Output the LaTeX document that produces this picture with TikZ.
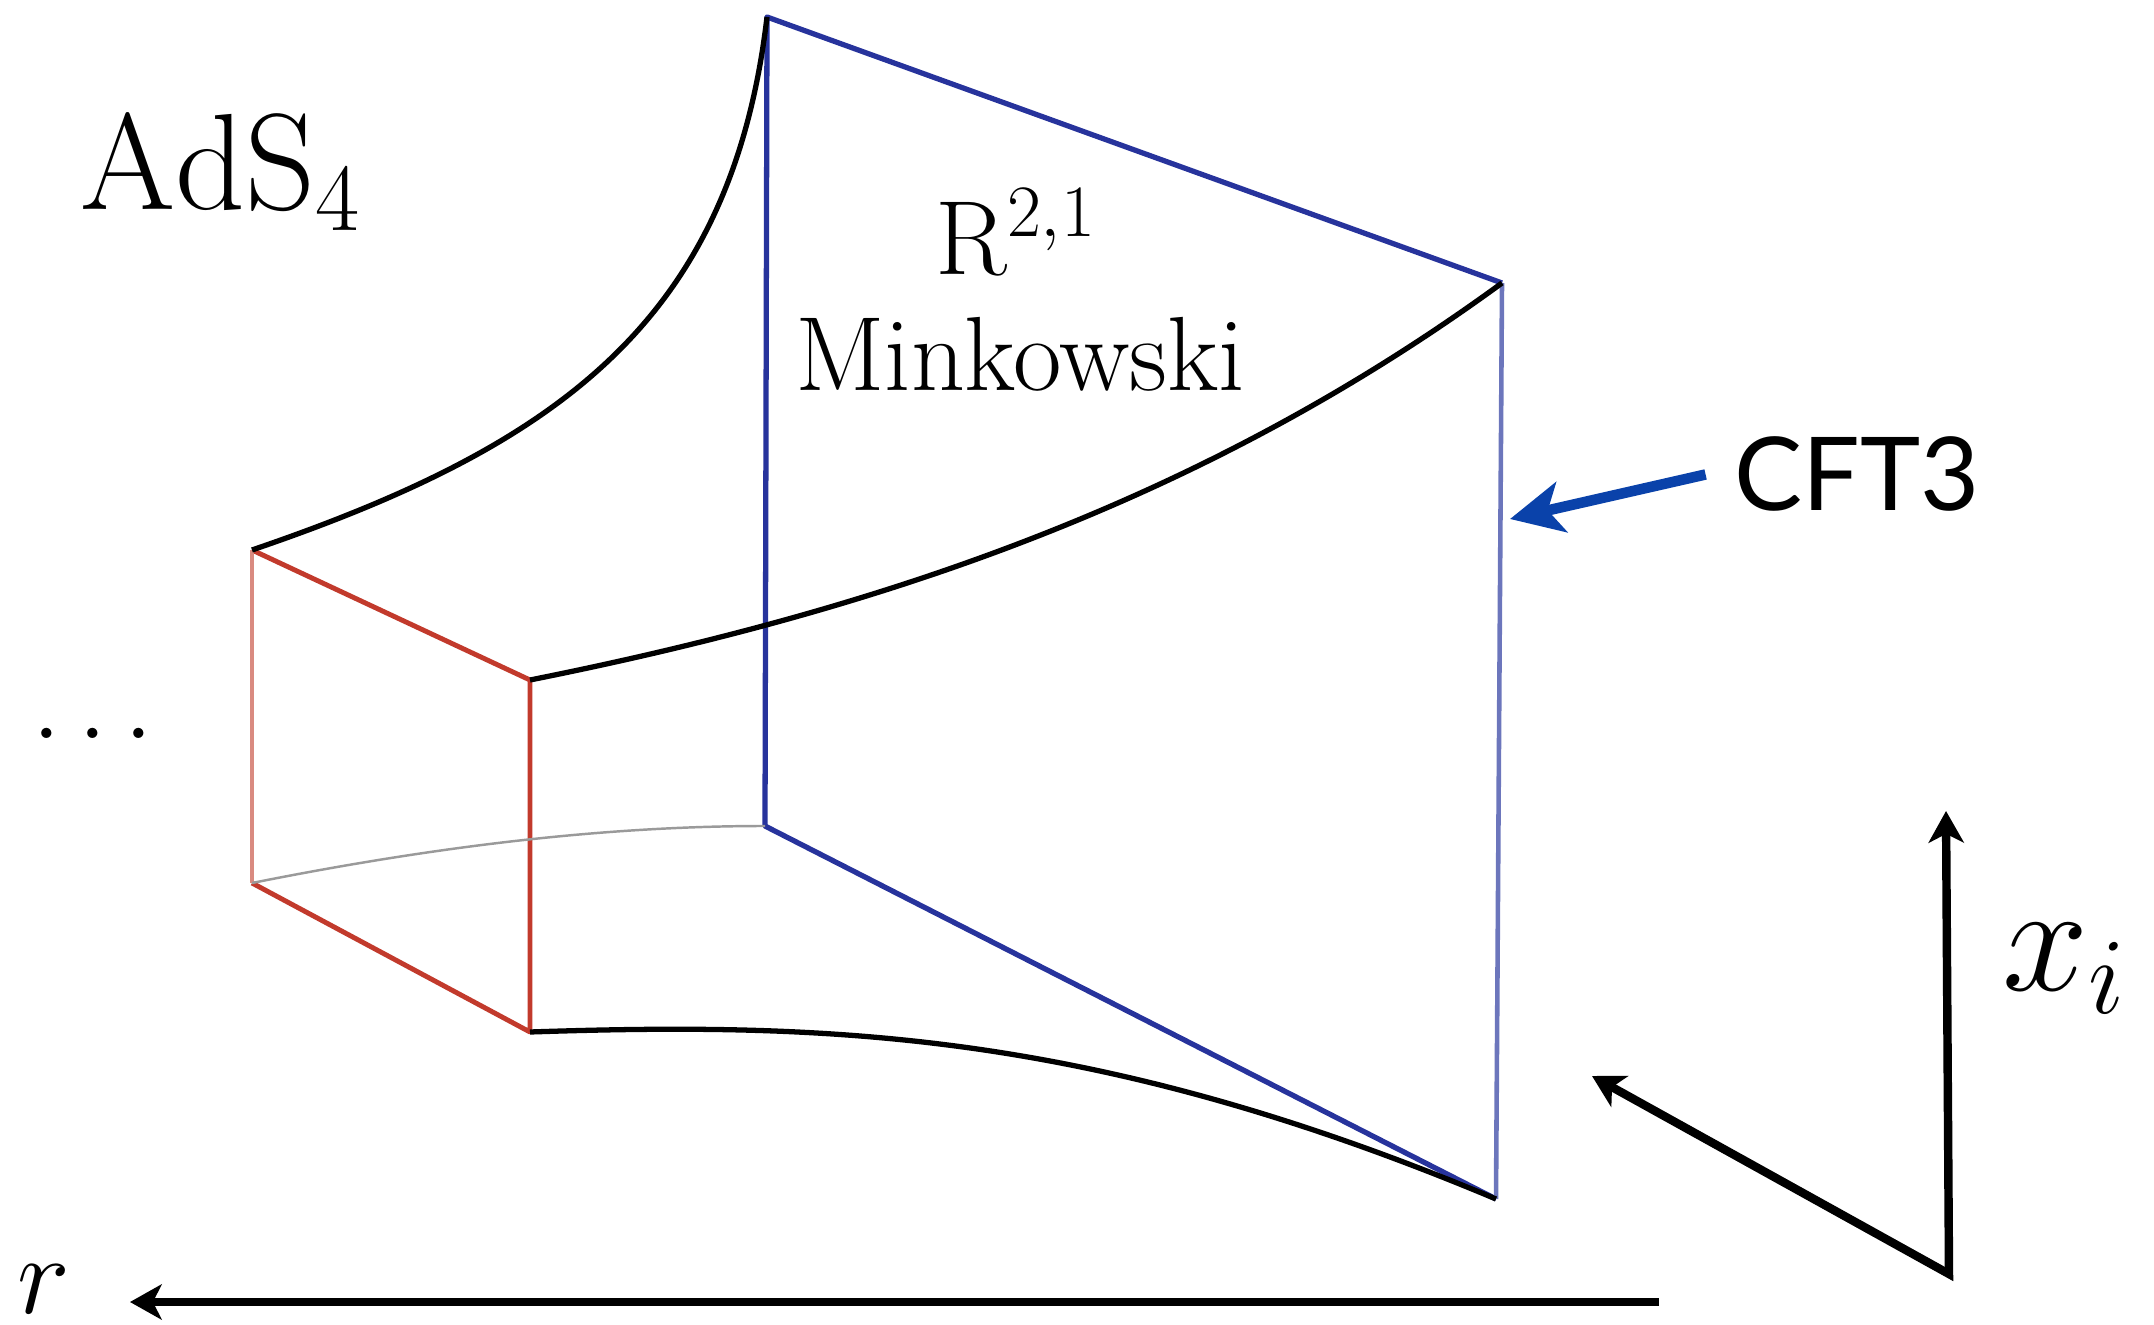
\documentclass[tikz,border=0pt]{standalone}
\usepackage{fix-cm}
\usepackage{fontspec}
\newfontfamily\cftfont{Lato}
\usetikzlibrary{arrows.meta}
\definecolor{sqBlue}{HTML}{27339C}
\definecolor{sqBlueLt}{HTML}{6C76BC}
\definecolor{sqRed}{HTML}{C23A2C}
\definecolor{sqRedLt}{HTML}{D98A80}
\definecolor{arrBlue}{HTML}{0A42AA}
\definecolor{curveGray}{HTML}{9A9A9A}

\begin{document}
\begin{tikzpicture}[
  x=0.01cm, y=-0.01cm,
  bsq/.style={draw=sqBlue, line width=1.5pt, line join=round},
  bsqlt/.style={draw=sqBlueLt, line width=1.3pt},
  rsq/.style={draw=sqRed, line width=1.4pt, line join=round},
  rsqlt/.style={draw=sqRedLt, line width=1.4pt},
  edge/.style={draw=black, line width=1.5pt},
  faint/.style={draw=curveGray, line width=0.7pt},
  axis/.style={line width=2.4pt, line join=miter,
               {Stealth[length=9pt,width=10pt,inset=2.5pt]}-{Stealth[length=9pt,width=10pt,inset=2.5pt]}},
  raxis/.style={line width=2.4pt, -{Stealth[length=9pt,width=10pt,inset=2.5pt]}},
  cftarr/.style={draw=arrBlue, line width=3pt, -{Stealth[length=15pt,width=14.5pt,inset=4pt]}},
  lbl/.style={inner sep=0pt, anchor=base},
]
\useasboundingbox (0,0) rectangle (2154,1325);

% ---- Boundary square (blue) ----
\coordinate (bTL) at (767,17);
\coordinate (bTR) at (1502,283);
\coordinate (bBR) at (1496,1199);
\coordinate (bBL) at (765,826);

% ---- Inner square (red) ----
\coordinate (rTL) at (252,550);
\coordinate (rTR) at (530,680);
\coordinate (rBR) at (530,1032);
\coordinate (rBL) at (252,883);

\draw[bsq]   (bBR) -- (bBL) -- (bTL) -- (bTR);
\draw[bsqlt] (bTR) -- (bBR);

\draw[rsq]   (rTL) -- (rTR) -- (rBR) -- (rBL);
\draw[rsqlt] (rBL) -- (rTL);

% ---- Bulk edges ----
\draw[faint] (rBL) .. controls (422,849) and (595,826) .. (bBL);
\draw[edge]  (rTL) .. controls (557,446) and (731,322) .. (bTL);
\draw[edge]  (rTR) .. controls (880,610) and (1202,502) .. (bTR);
\draw[edge]  (rBR) .. controls (830,1022) and (1096,1031) .. (bBR);

% ---- Labels ----
\node[lbl, font=\fontsize{39}{44}\selectfont] (ads) at (221,210) {$\mathrm{AdS}_4$};
\node[lbl, font=\fontsize{30}{34}\selectfont] (rmink) at (1016,275) {$\mathrm{R}^{2,1}$};
\node[lbl, font=\fontsize{30}{34}\selectfont] (mink) at (1020,391) {Minkowski};
\node[lbl, font=\fontsize{30}{34}\selectfont] (dots) at (93,739) {$\dots$};

% ---- Boundary CFT ----
\node[anchor=base, inner sep=8pt, font=\cftfont\fontsize{29}{33}\selectfont] (cft) at (1857,511) {CFT3};
\coordinate (cftTip) at (1510,519);
\draw[cftarr] (cft.west) -- (cftTip);

% ---- Axes ----
\coordinate (ori) at (1949,1274);
\coordinate (xiTip) at (1946,811);
\coordinate (diagTip) at (1592,1076);
\coordinate (rStart) at (1659,1302);
\coordinate (rTip) at (130,1302);
\draw[axis] (xiTip) -- (ori) -- (diagTip);
\draw[raxis] (rStart) -- (rTip);
\node[lbl, font=\fontsize{44}{48}\selectfont] (xi) at (2064,990) {$x_i$};
\node[lbl, font=\fontsize{32}{36}\selectfont] (r) at (44,1313) {$r$};

\end{tikzpicture}
\end{document}
